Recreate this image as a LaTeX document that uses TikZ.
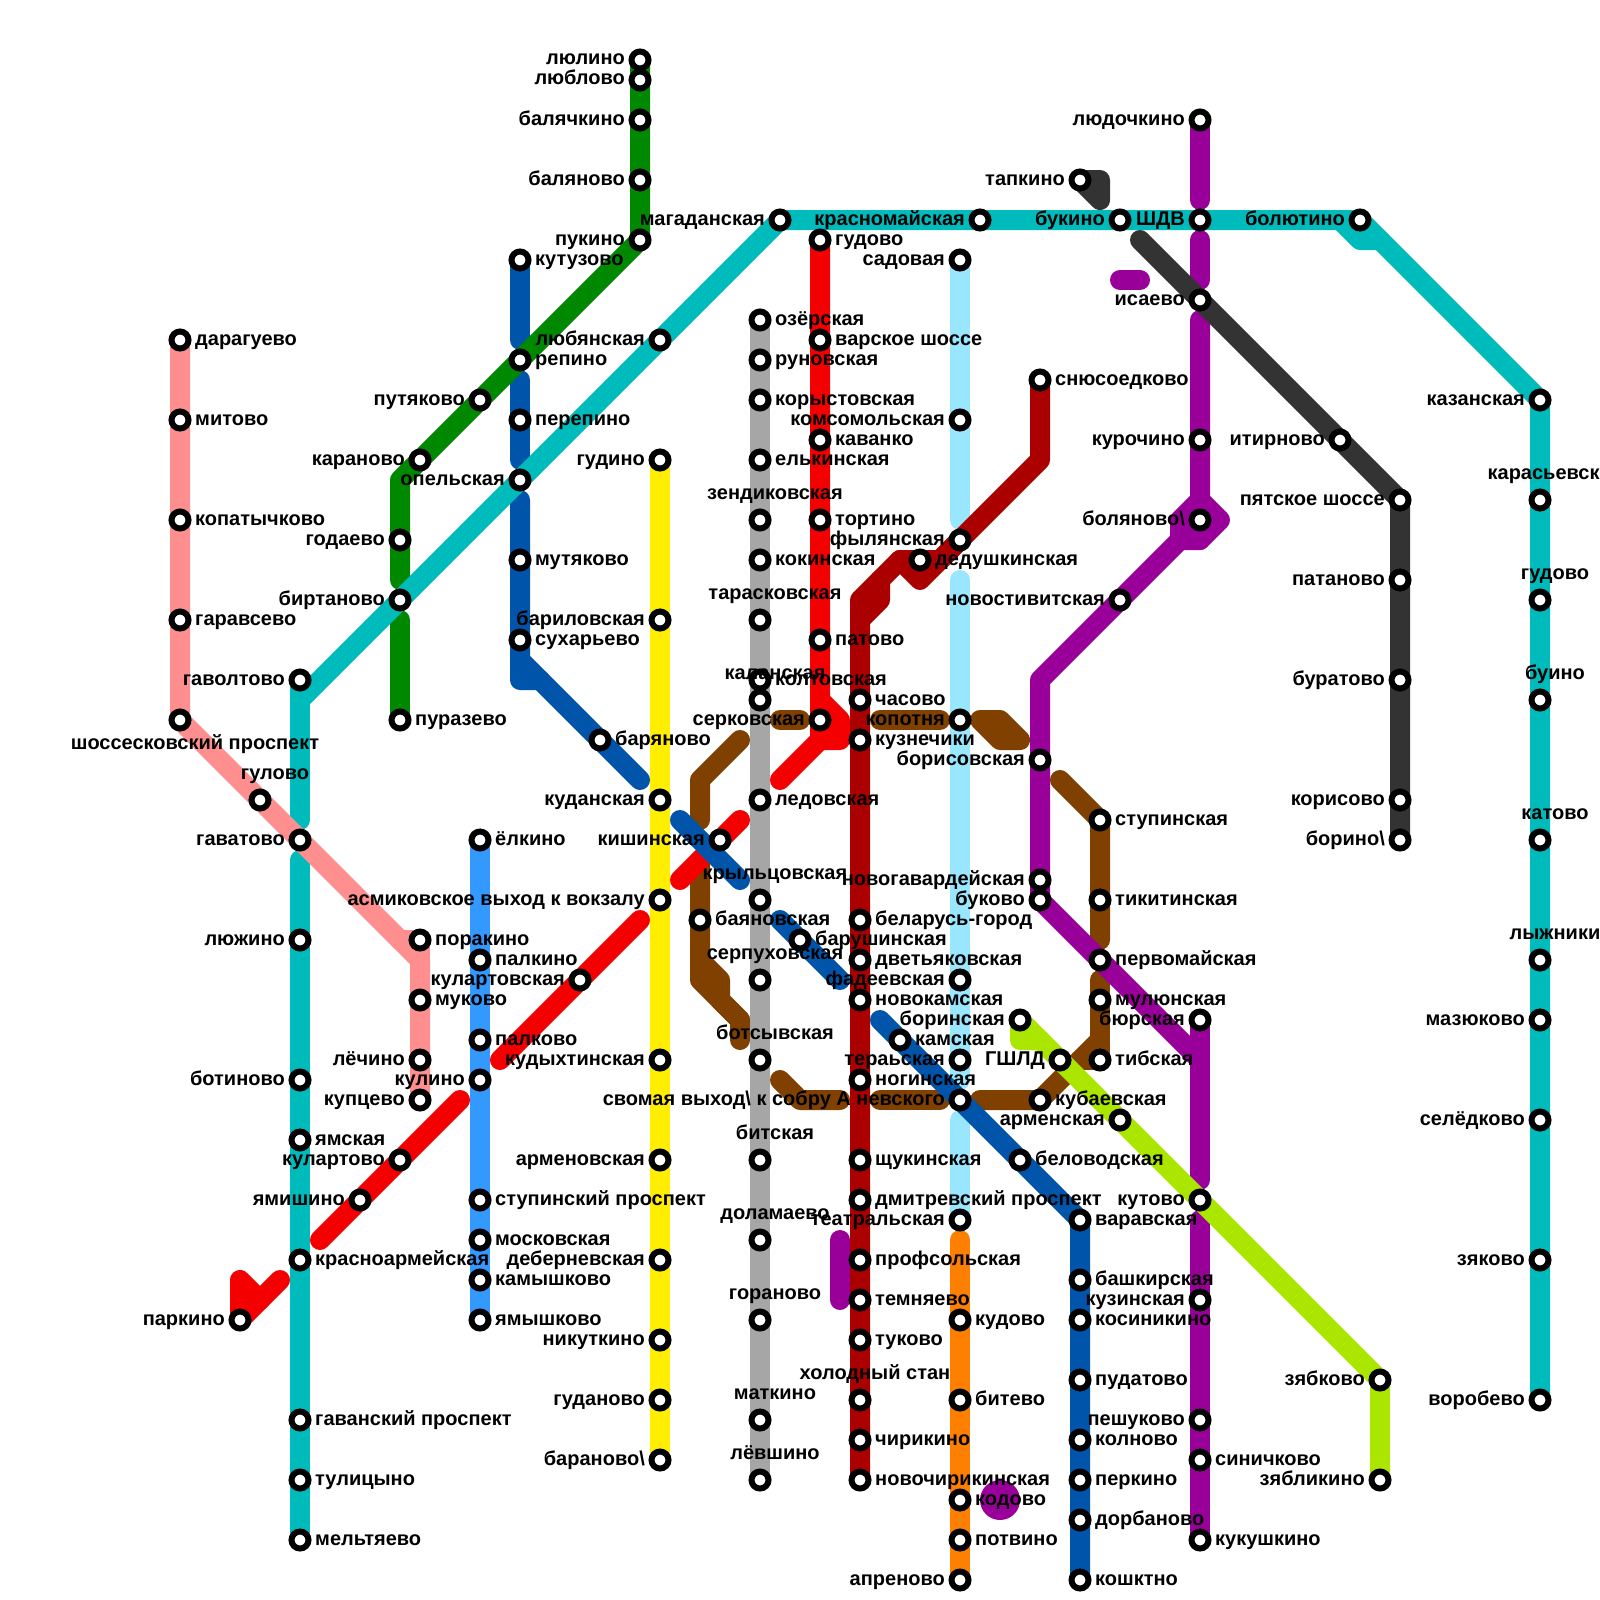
\documentclass[tikz,border=0pt]{standalone}
\usepackage{fontspec}
\setmainfont{Liberation Sans}
\definecolor{cTeal}{HTML}{00BBBB}
\definecolor{cPink}{HTML}{FF8F8F}
\definecolor{cGreen}{HTML}{008800}
\definecolor{cBlue}{HTML}{0055AA}
\definecolor{cAzure}{HTML}{3399FF}
\definecolor{cRed}{HTML}{F50000}
\definecolor{cDark}{HTML}{AA0000}
\definecolor{cGray}{HTML}{A6A6A6}
\definecolor{cYellow}{HTML}{FFEE00}
\definecolor{cBrown}{HTML}{7F4000}
\definecolor{cPurple}{HTML}{990099}
\definecolor{cSky}{HTML}{99E6FF}
\definecolor{cOrange}{HTML}{FF8000}
\definecolor{cLime}{HTML}{AAE600}
\definecolor{cCoal}{HTML}{333333}
\tikzset{
  ln/.style={draw=#1,line width=20pt,line cap=round,line join=round},
  stn/.style={circle,draw=black,fill=white,line width=6pt,minimum size=17pt,inner sep=0pt},
  lab/.style={inner sep=0pt,text=black,font=\bfseries\fontsize{20}{20}\selectfont},
  lblR/.style={lab,anchor=base west,xshift=15pt,yshift=-5pt},
  lblL/.style={lab,anchor=base east,xshift=-15pt,yshift=-5pt},
  lblT/.style={lab,anchor=base,xshift=15pt,yshift=21pt},
  lblB/.style={lab,anchor=base,xshift=15pt,yshift=-29pt},
}
\newcommand\StationList{%
\Stn{darag}{180}{340}{R}{дарагуево}
\Stn{mitov}{180}{420}{R}{митово}
\Stn{kopat}{180}{520}{R}{копатычково}
\Stn{garav}{180}{620}{R}{гаравсево}
\Stn{shoss}{180}{720}{B}{шоссесковский проспект}
\Stn{gulov}{260}{800}{T}{гулово}
\Stn{porak}{420}{940}{R}{поракино}
\Stn{mukov}{420}{1000}{R}{муково}
\Stn{lechi}{420}{1060}{L}{лёчино}
\Stn{kupts}{420}{1100}{L}{купцево}
\Stn{gavol}{300}{680}{L}{гаволтово}
\Stn{gavat}{300}{840}{L}{гаватово}
\Stn{lyuzh}{300}{940}{L}{люжино}
\Stn{botin}{300}{1080}{L}{ботиново}
\Stn{yamsk}{300}{1140}{R}{ямская}
\Stn{krasa}{300}{1260}{R}{красноармейская}
\Stn{gavan}{300}{1420}{R}{гаванский проспект}
\Stn{tulic}{300}{1480}{R}{тулицыно}
\Stn{melty}{300}{1540}{R}{мельтяево}
\Stn{magad}{780}{220}{L}{магаданская}
\Stn{lyuby}{660}{340}{L}{любянская}
\Stn{opels}{520}{480}{L}{опельская}
\Stn{birta}{400}{600}{L}{биртаново}
\Stn{krasm}{980}{220}{L}{красномайская}
\Stn{bukin}{1120}{220}{L}{букино}
\Stn{shdv}{1200}{220}{L}{ШДВ}
\Stn{bolyu}{1360}{220}{L}{болютино}
\Stn{kazan}{1540}{400}{L}{казанская}
\Stn{karas}{1540}{500}{T}{карасьевская}
\Stn{gudvb}{1540}{600}{T}{гудово}
\Stn{buino}{1540}{700}{T}{буино}
\Stn{katov}{1540}{840}{T}{катово}
\Stn{lyzhn}{1540}{960}{T}{лыжники}
\Stn{mazyu}{1540}{1020}{L}{мазюково}
\Stn{seled}{1540}{1120}{L}{селёдково}
\Stn{zyako}{1540}{1260}{L}{зяково}
\Stn{vorob}{1540}{1400}{L}{воробево}
\Stn{lyuli}{640}{60}{L}{люлино}
\Stn{lyubl}{640}{80}{L}{люблово}
\Stn{balch}{640}{120}{L}{балячкино}
\Stn{balya}{640}{180}{L}{баляново}
\Stn{pukin}{640}{240}{L}{пукино}
\Stn{repin}{520}{360}{R}{репино}
\Stn{putya}{480}{400}{L}{путяково}
\Stn{karan}{420}{460}{L}{караново}
\Stn{godae}{400}{540}{L}{годаево}
\Stn{puraz}{400}{720}{R}{пуразево}
\Stn{kutuz}{520}{260}{R}{кутузово}
\Stn{perep}{520}{420}{R}{перепино}
\Stn{mutya}{520}{560}{R}{мутяково}
\Stn{sukha}{520}{640}{R}{сухарьево}
\Stn{barya}{600}{740}{R}{баряново}
\Stn{kishi}{720}{840}{L}{кишинская}
\Stn{barus}{800}{940}{R}{барушинская}
\Stn{kamsk}{900}{1040}{R}{камская}
\Stn{nevsk}{960}{1100}{L}{свомая выход\textbackslash{} к собру А невского}
\Stn{belov}{1020}{1160}{R}{беловодская}
\Stn{varav}{1080}{1220}{R}{варавская}
\Stn{bashk}{1080}{1280}{R}{башкирская}
\Stn{kosin}{1080}{1320}{R}{косиникино}
\Stn{pudat}{1080}{1380}{R}{пудатово}
\Stn{kolno}{1080}{1440}{R}{колново}
\Stn{perki}{1080}{1480}{R}{перкино}
\Stn{dorba}{1080}{1520}{R}{дорбаново}
\Stn{koshk}{1080}{1580}{R}{кошктно}
\Stn{elkin}{480}{840}{R}{ёлкино}
\Stn{palki}{480}{960}{R}{палкино}
\Stn{palko}{480}{1040}{R}{палково}
\Stn{kulin}{480}{1080}{L}{кулино}
\Stn{stupp}{480}{1200}{R}{ступинский проспект}
\Stn{mosko}{480}{1240}{R}{московская}
\Stn{kamys}{480}{1280}{R}{камышково}
\Stn{yamys}{480}{1320}{R}{ямышково}
\Stn{gudin}{660}{460}{L}{гудино}
\Stn{baril}{660}{620}{L}{бариловская}
\Stn{kudan}{660}{800}{L}{куданская}
\Stn{asmik}{660}{900}{L}{асмиковское выход к вокзалу}
\Stn{kudyk}{660}{1060}{L}{кудыхтинская}
\Stn{armen}{660}{1160}{L}{арменовская}
\Stn{debir}{660}{1260}{L}{деберневская}
\Stn{nikut}{660}{1340}{L}{никуткино}
\Stn{gudan}{660}{1400}{L}{гуданово}
\Stn{baran}{660}{1460}{L}{бараново\textbackslash}
\Stn{ozers}{760}{320}{R}{озёрская}
\Stn{runov}{760}{360}{R}{руновская}
\Stn{koryt}{760}{400}{R}{корыстовская}
\Stn{elkis}{760}{460}{R}{елькинская}
\Stn{zendi}{760}{520}{T}{зендиковская}
\Stn{kokin}{760}{560}{R}{кокинская}
\Stn{taras}{760}{620}{T}{тарасковская}
\Stn{kolto}{760}{680}{R}{колтовская}
\Stn{kalan}{760}{700}{T}{каланская}
\Stn{ledov}{760}{800}{R}{ледовская}
\Stn{kryle}{760}{900}{T}{крыльцовская}
\Stn{serpu}{760}{980}{T}{серпуховская}
\Stn{botsy}{760}{1060}{T}{ботсывская}
\Stn{bitsk}{760}{1160}{T}{битская}
\Stn{dolam}{760}{1240}{T}{доламаево}
\Stn{goran}{760}{1320}{T}{гораново}
\Stn{matki}{760}{1420}{T}{маткино}
\Stn{levsh}{760}{1480}{T}{лёвшино}
\Stn{gudvr}{820}{240}{R}{гудово}
\Stn{varsk}{820}{340}{R}{варское шоссе}
\Stn{kavan}{820}{440}{R}{каванко}
\Stn{torti}{820}{520}{R}{тортино}
\Stn{patov}{820}{640}{R}{патово}
\Stn{serko}{820}{720}{L}{серковская}
\Stn{kulas}{580}{980}{L}{кулартовская}
\Stn{kular}{400}{1160}{L}{кулартово}
\Stn{yamis}{360}{1200}{L}{ямишино}
\Stn{parki}{240}{1320}{L}{паркино}
\Stn{snyus}{1040}{380}{R}{снюсоедково}
\Stn{dedus}{920}{560}{R}{дедушкинская}
\Stn{chaso}{860}{700}{R}{часово}
\Stn{kuzne}{860}{740}{R}{кузнечики}
\Stn{belar}{860}{920}{R}{беларусь-город}
\Stn{dvety}{860}{960}{R}{дветьяковская}
\Stn{novok}{860}{1000}{R}{новокамская}
\Stn{nogin}{860}{1080}{R}{ногинская}
\Stn{shchu}{860}{1160}{R}{щукинская}
\Stn{dmitr}{860}{1200}{R}{дмитревский проспект}
\Stn{profs}{860}{1260}{R}{профсольская}
\Stn{temny}{860}{1300}{R}{темняево}
\Stn{tukov}{860}{1340}{R}{туково}
\Stn{kholo}{860}{1400}{T}{холодный стан}
\Stn{chiri}{860}{1440}{R}{чирикино}
\Stn{novch}{860}{1480}{R}{новочирикинская}
\Stn{sadov}{960}{260}{L}{садовая}
\Stn{komso}{960}{420}{L}{комсомольская}
\Stn{fylya}{960}{540}{L}{фылянская}
\Stn{kopot}{960}{720}{L}{копотня}
\Stn{fadee}{960}{980}{L}{фадеевская}
\Stn{teras}{960}{1060}{L}{тераьская}
\Stn{teatr}{960}{1220}{L}{театральская}
\Stn{kudov}{960}{1320}{R}{кудово}
\Stn{bitev}{960}{1400}{R}{битево}
\Stn{kodov}{960}{1500}{R}{кодово}
\Stn{potvi}{960}{1540}{R}{потвино}
\Stn{apren}{960}{1580}{L}{апреново}
\Stn{lyudo}{1200}{120}{L}{людочкино}
\Stn{isaev}{1200}{300}{L}{исаево}
\Stn{kuroc}{1200}{440}{L}{курочино}
\Stn{bolya}{1200}{520}{L}{боляново\textbackslash}
\Stn{novos}{1120}{600}{L}{новостивитская}
\Stn{boris}{1040}{760}{L}{борисовская}
\Stn{novog}{1040}{880}{L}{новогавардейская}
\Stn{bukov}{1040}{900}{L}{буково}
\Stn{byurs}{1200}{1020}{L}{бюрская}
\Stn{kutov}{1200}{1200}{L}{кутово}
\Stn{kuzin}{1200}{1300}{L}{кузинская}
\Stn{peshu}{1200}{1420}{L}{пешуково}
\Stn{sinic}{1200}{1460}{R}{синичково}
\Stn{kukus}{1200}{1540}{R}{кукушкино}
\Stn{tapki}{1080}{180}{L}{тапкино}
\Stn{itirn}{1340}{440}{L}{итирново}
\Stn{pyats}{1400}{500}{L}{пятское шоссе}
\Stn{patan}{1400}{580}{L}{патаново}
\Stn{burat}{1400}{680}{L}{буратово}
\Stn{koris}{1400}{800}{L}{корисово}
\Stn{borin}{1400}{840}{L}{борино\textbackslash}
\Stn{boryn}{1020}{1020}{L}{боринская}
\Stn{gshld}{1060}{1060}{L}{ГШЛД}
\Stn{armsk}{1120}{1120}{L}{арменская}
\Stn{zyabk}{1380}{1380}{L}{зябково}
\Stn{zyabl}{1380}{1480}{L}{зябликино}
\Stn{stups}{1100}{820}{R}{ступинская}
\Stn{tikit}{1100}{900}{R}{тикитинская}
\Stn{perom}{1100}{960}{R}{первомайская}
\Stn{mulyu}{1100}{1000}{R}{мулюнская}
\Stn{tibsk}{1100}{1060}{R}{тибская}
\Stn{kubae}{1040}{1100}{R}{кубаевская}
\Stn{bayan}{700}{920}{R}{баяновская}
}
\newcommand\Pt[3]{\coordinate (#1) at (#2,#3);}
\begin{document}
\begin{tikzpicture}[x=1pt,y=-1pt]
\path[use as bounding box,fill=white] (0,0) rectangle (1600,1600);
\clip (0,0) rectangle (1600,1600);
% coordinates of all stations
\def\Stn#1#2#3#4#5{\coordinate (#1) at (#2,#3);}
\StationList
% free ends and bends of the lines
\Pt{pk1}{180}{720}\Pt{pk2}{420}{960}\Pt{pk3}{400}{940}\Pt{pk4}{420}{940}
\Pt{te1}{1340}{220}\Pt{te2}{1360}{240}\Pt{te3}{1380}{240}\Pt{te5}{300}{700}\Pt{te6}{300}{820}\Pt{te7}{300}{860}
\Pt{gr1}{400}{480}\Pt{gr2}{400}{580}\Pt{gr3}{400}{620}
\Pt{bl1}{520}{340}\Pt{bl2}{520}{380}\Pt{bl3}{520}{460}\Pt{bl4}{520}{500}\Pt{bl5}{520}{680}\Pt{bl6}{540}{680}\Pt{bl7}{640}{780}\Pt{bl8}{520}{660}
\Pt{bl9}{680}{820}\Pt{bl10}{740}{880}\Pt{bl11}{780}{920}\Pt{bl12}{840}{980}\Pt{bl13}{880}{1020}
\Pt{re1}{820}{740}\Pt{re2}{780}{780}\Pt{re3}{820}{700}\Pt{re4}{840}{720}\Pt{re5}{840}{740}
\Pt{re6}{680}{880}\Pt{re7}{740}{820}\Pt{re8}{500}{1060}\Pt{re9}{640}{920}\Pt{re10}{320}{1240}\Pt{re11}{460}{1100}
\Pt{re12}{240}{1280}\Pt{re13}{260}{1300}\Pt{re14}{280}{1280}
\Pt{dr1}{1040}{460}\Pt{dr2}{940}{560}\Pt{dr3}{900}{560}\Pt{dr4}{860}{600}\Pt{dr5}{920}{580}\Pt{dr6}{860}{620}\Pt{dr7}{880}{600}\Pt{dr8}{880}{580}
\Pt{sk1}{960}{520}\Pt{sk2}{960}{580}\Pt{sk3}{960}{1080}\Pt{sk4}{960}{1120}
\Pt{or1}{960}{1240}
\Pt{pu1}{1200}{200}\Pt{pu2}{1200}{240}\Pt{pu3}{1200}{280}\Pt{pu4}{1200}{320}\Pt{pu5}{1200}{500}\Pt{pu6}{1220}{520}\Pt{pu7}{1200}{540}\Pt{pu8}{1180}{540}
\Pt{pu9}{1040}{680}\Pt{pu10}{1200}{1060}\Pt{pu11}{1180}{520}\Pt{pu12}{1200}{1180}\Pt{pu13}{1200}{1220}
\Pt{pu14}{1120}{280}\Pt{pu15}{1140}{280}\Pt{pu16}{840}{1240}\Pt{pu17}{840}{1300}\Pt{pu18}{1000}{1500}
\Pt{co1}{1100}{180}\Pt{co2}{1100}{200}\Pt{co3}{1140}{240}
\Pt{li1}{1020}{1040}\Pt{li2}{1040}{1040}
\Pt{br1}{780}{720}\Pt{br2}{800}{720}\Pt{br3}{880}{720}\Pt{br4}{940}{720}\Pt{br5}{980}{720}\Pt{br6}{1000}{720}\Pt{br7}{1020}{740}\Pt{br8}{1000}{740}
\Pt{br9}{1060}{780}\Pt{br10}{1100}{940}\Pt{br11}{1100}{980}\Pt{br12}{1080}{1060}\Pt{br13}{1100}{1040}\Pt{br14}{980}{1100}
\Pt{br15}{880}{1100}\Pt{br16}{940}{1100}\Pt{br17}{780}{1080}\Pt{br18}{800}{1100}\Pt{br19}{840}{1100}
\Pt{br20}{740}{740}\Pt{br21}{700}{780}\Pt{br22}{700}{820}\Pt{br23}{700}{860}\Pt{br24}{700}{980}\Pt{br25}{740}{1020}\Pt{br26}{740}{1040}
\Pt{br27}{700}{960}\Pt{br28}{720}{980}\Pt{br29}{720}{1000}
% brown
\draw[ln=cBrown] (br1) -- (br2);
\draw[ln=cBrown] (br3) -- (br4);
\draw[ln=cBrown] (br5) -- (br6) -- (br7) -- (br8) -- (br5);
\draw[ln=cBrown] (br9) -- (stups) -- (br10);
\draw[ln=cBrown] (br11) -- (tibsk) -- (br12);
\draw[ln=cBrown] (br13) -- (kubae) -- (br14);
\draw[ln=cBrown] (br15) -- (br16);
\draw[ln=cBrown] (br17) -- (br18) -- (br19);
\draw[ln=cBrown] (br20) -- (br21) -- (br22);
\draw[ln=cBrown] (br23) -- (br24) -- (br25) -- (br26);
\draw[ln=cBrown] (br27) -- (br28) -- (br29) -- (br25);
% grey, yellow, azure
\draw[ln=cGray] (ozers) -- (levsh);
\draw[ln=cYellow] (gudin) -- (baran);
\draw[ln=cAzure] (elkin) -- (yamys);
% sky and orange
\draw[ln=cSky] (sadov) -- (sk1);
\draw[ln=cSky] (sk2) -- (sk3);
\draw[ln=cSky] (sk4) -- (teatr);
\draw[ln=cOrange] (or1) -- (apren);
% red
\draw[ln=cRed] (gudvr) -- (re1) -- (re2);
\draw[ln=cRed] (re3) -- (re4) -- (re5) -- (re1);
\draw[ln=cRed] (re6) -- (re7);
\draw[ln=cRed] (re8) -- (re9);
\draw[ln=cRed] (re10) -- (re11);
\draw[ln=cRed] (parki) -- (re12) -- (re13);
\draw[ln=cRed] (parki) -- (re14);
% dark red
\draw[ln=cDark] (snyus) -- (dr1) -- (dr2) -- (dr3) -- (dr4) -- (novch);
\draw[ln=cDark] (fylya) -- (dr5) -- (dr3);
\draw[ln=cDark] (dr6) -- (dr7) -- (dr8);
% purple
\draw[ln=cPurple] (lyudo) -- (pu1);
\draw[ln=cPurple] (pu2) -- (pu3);
\draw[ln=cPurple] (pu4) -- (pu5) -- (pu6) -- (pu7) -- (pu8) -- (pu9) -- (bukov) -- (pu10);
\draw[ln=cPurple] (pu5) -- (pu11) -- (pu8);
\draw[ln=cPurple] (pu5) -- (pu7);
\draw[ln=cPurple] (byurs) -- (pu12);
\draw[ln=cPurple] (pu13) -- (kukus);
\draw[ln=cPurple] (pu14) -- (pu15);
\draw[ln=cPurple] (pu16) -- (pu17);
\node[circle,fill=cPurple,minimum size=40pt,inner sep=0pt] (pdot) at (pu18) {};
% dark blue
\draw[ln=cBlue] (kutuz) -- (bl1);
\draw[ln=cBlue] (bl2) -- (bl3);
\draw[ln=cBlue] (bl4) -- (bl5) -- (bl6) -- (bl7);
\draw[ln=cBlue] (bl8) -- (bl6);
\draw[ln=cBlue] (bl9) -- (bl10);
\draw[ln=cBlue] (bl11) -- (bl12);
\draw[ln=cBlue] (bl13) -- (varav) -- (koshk);
% lime
\draw[ln=cLime] (boryn) -- (zyabk) -- (zyabl);
\draw[ln=cLime] (boryn) -- (li1) -- (li2);
% coal
\draw[ln=cCoal] (tapki) -- (co1) -- (co2) -- (tapki);
\draw[ln=cCoal] (co3) -- (pyats) -- (borin);
% green
\draw[ln=cGreen] (lyuli) -- (pukin) -- (gr1) -- (gr2);
\draw[ln=cGreen] (gr3) -- (puraz);
% teal
\draw[ln=cTeal] (magad) -- (te1) -- (te2) -- (te3) -- (kazan) -- (vorob);
\draw[ln=cTeal] (te1) -- (bolyu) -- (te3);
\draw[ln=cTeal] (magad) -- (te5);
\draw[ln=cTeal] (gavol) -- (te6);
\draw[ln=cTeal] (te7) -- (melty);
% pink
\draw[ln=cPink] (darag) -- (pk1) -- (pk2) -- (kupts);
\draw[ln=cPink] (pk3) -- (pk4) -- (pk2);
% station rings
\def\Stn#1#2#3#4#5{\node[stn] (#1) at (#2,#3) {};}
\StationList
% labels
\def\Stn#1#2#3#4#5{\node[lbl#4] (#1-t) at (#2,#3) {#5};}
\StationList
\end{tikzpicture}
\end{document}
